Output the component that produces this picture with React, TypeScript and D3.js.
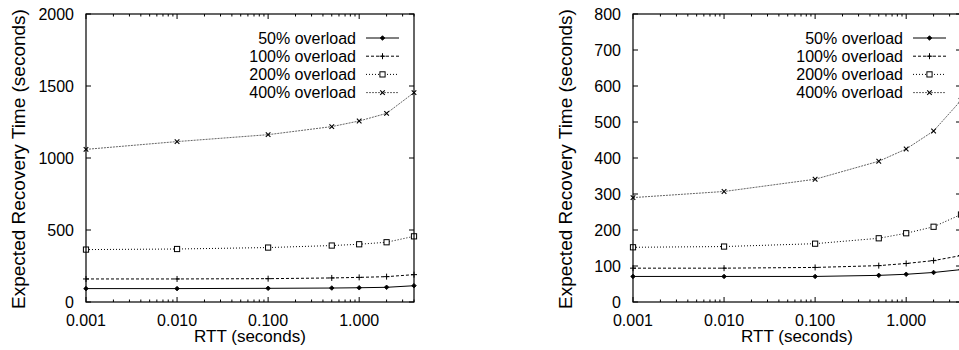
import React from "react";
import * as d3 from "d3";

const rtt = [0.001, 0.01, 0.1, 0.5, 1, 2, 4];
const seriesNames = ["50% overload", "100% overload", "200% overload", "400% overload"];

const left50 = [93, 93, 95, 97, 99, 102, 113];
const left100 = [160, 160, 162, 167, 171, 176, 190];
const left200 = [364, 368, 378, 392, 401, 415, 456];
const left400 = [1060, 1114, 1162, 1218, 1257, 1310, 1454];

const right50 = [71, 71, 71, 74, 77, 82, 90];
const right100 = [94, 94, 96, 101, 107, 115, 129];
const right200 = [152, 154, 162, 177, 191, 209, 243];
const right400 = [290, 307, 341, 391, 425, 475, 560];

const xMajorTicks = [0.001, 0.01, 0.1, 1];
const leftYTicks = [0, 500, 1000, 1500, 2000];
const rightYTicks = [0, 100, 200, 300, 400, 500, 600, 700, 800];

const xTitle = "RTT (seconds)";
const yTitle = "Expected Recovery Time (seconds)";

const FONT = "'Liberation Sans', Arial, Helvetica, sans-serif";

const styles = [
  { stroke: "#000", dash: "none", marker: "diamond" },
  { stroke: "#000", dash: "3,2", marker: "plus" },
  { stroke: "#000", dash: "1,2", marker: "square" },
  { stroke: "#666", dash: "2,1", marker: "cross" },
];

function Marker({ type, x, y }: { type: string; x: number; y: number }) {
  if (type === "diamond") {
    const s = 2.3;
    return (
      <path
        d={`M${x},${y - s}L${x + s},${y}L${x},${y + s}L${x - s},${y}Z`}
        fill="#000"
        stroke="#000"
        strokeWidth={0.8}
      />
    );
  }
  if (type === "plus") {
    const s = 3;
    return (
      <path d={`M${x - s},${y}H${x + s}M${x},${y - s}V${y + s}`} stroke="#000" strokeWidth={1} />
    );
  }
  if (type === "square") {
    const s = 2.6;
    return <rect x={x - s} y={y - s} width={2 * s} height={2 * s} fill="#fff" stroke="#000" strokeWidth={1} />;
  }
  const s = 2.3;
  return (
    <path
      d={`M${x - s},${y - s}L${x + s},${y + s}M${x - s},${y + s}L${x + s},${y - s}`}
      stroke="#000"
      strokeWidth={1.1}
    />
  );
}

function Panel({
  x0,
  yMax,
  yTicks,
  data,
}: {
  x0: number;
  yMax: number;
  yTicks: number[];
  data: number[][];
}) {
  const top = 14;
  const bottom = 302;
  const width = 328;
  const x = d3.scaleLog().domain([0.001, 4]).range([x0, x0 + width]);
  const y = d3.scaleLinear().domain([0, yMax]).range([bottom, top]);
  const right = x0 + width;

  const minor: number[] = [];
  [0.001, 0.01, 0.1, 1].forEach((dec) => {
    for (let k = 2; k <= 9; k++) {
      const v = dec * k;
      if (v <= 4.0001) minor.push(v);
    }
  });

  const line = d3
    .line<number>()
    .x((_, i) => x(rtt[i]))
    .y((d) => y(d));

  const fmt = d3.format(".3f");
  const majorLen = 5;
  const minorLen = 2.5;

  return (
    <g>
      {data.map((vals, si) => (
        <g key={si}>
          <path
            d={line(vals) || ""}
            fill="none"
            stroke={styles[si].stroke}
            strokeWidth={1}
            strokeDasharray={styles[si].dash}
          />
          {vals.map((v, i) => (
            <Marker key={i} type={styles[si].marker} x={x(rtt[i])} y={y(v)} />
          ))}
        </g>
      ))}

      <rect x={x0} y={top} width={width} height={bottom - top} fill="none" stroke="#000" strokeWidth={1.2} />

      {xMajorTicks.map((t) => (
        <g key={"xm" + t}>
          <line x1={x(t)} x2={x(t)} y1={bottom} y2={bottom - majorLen} stroke="#000" />
          <line x1={x(t)} x2={x(t)} y1={top} y2={top + majorLen} stroke="#000" />
          <text x={x(t)} y={326} textAnchor="middle" fontFamily={FONT} fontSize={16} fill="#000">
            {fmt(t)}
          </text>
        </g>
      ))}
      {minor.map((t) => (
        <g key={"xn" + t}>
          <line x1={x(t)} x2={x(t)} y1={bottom} y2={bottom - minorLen} stroke="#000" />
          <line x1={x(t)} x2={x(t)} y1={top} y2={top + minorLen} stroke="#000" />
        </g>
      ))}

      {yTicks.map((t) => (
        <g key={"y" + t}>
          <line x1={x0} x2={x0 + majorLen} y1={y(t)} y2={y(t)} stroke="#000" />
          <line x1={right} x2={right - majorLen} y1={y(t)} y2={y(t)} stroke="#000" />
          <text
            x={x0 - 12}
            y={y(t)}
            dy="0.36em"
            textAnchor="end"
            fontFamily={FONT}
            fontSize={16}
            fill="#000"
          >
            {t}
          </text>
        </g>
      ))}

      <text
        x={x0 + width / 2}
        y={342}
        textAnchor="middle"
        fontFamily={FONT}
        fontSize={17}
        fill="#000"
      >
        {xTitle}
      </text>
      <text
        transform={`translate(${x0 - 68},${(top + bottom) / 2 + 1}) rotate(-90)`}
        textAnchor="middle"
        dy="0.36em"
        fontFamily={FONT}
        fontSize={19}
        fill="#000"
      >
        {yTitle}
      </text>

      {seriesNames.map((name, si) => {
        const ry = 38 + si * 18.2;
        const lx1 = x0 + 280;
        const lx2 = x0 + 313;
        const mx = (lx1 + lx2) / 2;
        return (
          <g key={"lg" + si}>
            <text
              x={x0 + 270}
              y={ry}
              dy="0.36em"
              textAnchor="end"
              fontFamily={FONT}
              fontSize={16}
              fill="#000"
            >
              {name}
            </text>
            <line
              x1={lx1}
              x2={lx2}
              y1={ry}
              y2={ry}
              stroke={styles[si].stroke}
              strokeWidth={1}
              strokeDasharray={styles[si].dash}
            />
            <Marker type={styles[si].marker} x={mx} y={ry} />
          </g>
        );
      })}
    </g>
  );
}

export default function App() {
  return (
    <svg width={959} height={350} style={{ position: "absolute", left: 0, top: 0, background: "#fff" }}>
      <rect width={959} height={350} fill="#fff" />
      <Panel x0={86} yMax={2000} yTicks={leftYTicks} data={[left50, left100, left200, left400]} />
      <Panel x0={633} yMax={800} yTicks={rightYTicks} data={[right50, right100, right200, right400]} />
    </svg>
  );
}
